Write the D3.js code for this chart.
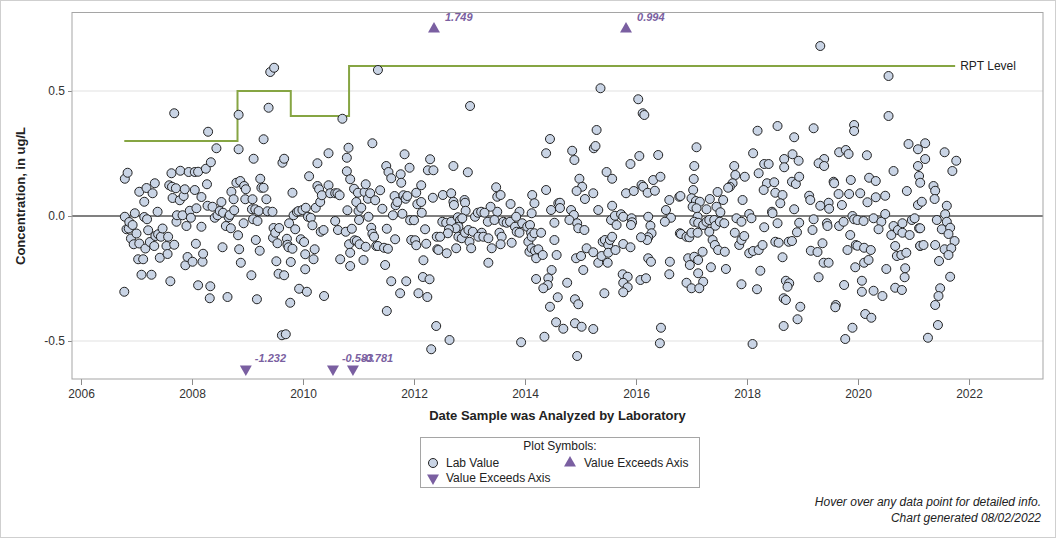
<!doctype html>
<html>
<head>
<meta charset="utf-8" />
<script src="https://cdn.jsdelivr.net/npm/d3@7"></script>
<style>
  body { margin: 0; background: #fff; }
  svg text { font-family: "Liberation Sans", Arial, sans-serif; }
</style>
</head>
<body>
<svg id="chart" width="1056" height="538"></svg>
<script>
// lab values: [decimal year analyzed, concentration ug/L]
var labPoints = [
[2006.78,-0.303],[2006.79,0.149],[2006.84,0.173],[2006.79,-0.003],[2006.82,-0.053],[2006.86,-0.050],[2006.87,-0.024],[2006.90,-0.090],[2006.93,-0.036],[2006.97,0.011],[2006.95,-0.113],[2007.00,-0.070],[2007.03,-0.173],[2007.05,0.097],[2007.05,-0.110],[2007.09,-0.235],[2007.12,-0.173],[2007.14,0.057],[2007.14,-0.004],[2007.16,-0.130],[2007.18,0.112],[2007.19,-0.013],[2007.21,-0.057],[2007.24,-0.104],[2007.27,-0.235],[2007.29,0.091],[2007.32,-0.120],[2007.33,0.131],[2007.34,-0.080],[2007.38,0.017],[2007.39,-0.073],[2007.42,-0.167],[2007.44,-0.083],[2007.47,-0.050],[2007.54,-0.120],[2007.56,-0.152],[2007.57,-0.083],[2007.59,0.123],[2007.61,-0.261],[2007.63,0.171],[2007.64,0.117],[2007.65,0.072],[2007.68,0.411],[2007.68,-0.115],[2007.71,0.111],[2007.72,-0.023],[2007.73,0.003],[2007.79,0.181],[2007.78,0.063],[2007.83,0.003],[2007.85,0.080],[2007.87,0.107],[2007.88,-0.197],[2007.90,-0.040],[2007.92,-0.164],[2007.94,0.176],[2007.96,0.021],[2007.98,-0.007],[2008.01,-0.183],[2008.05,0.176],[2008.05,0.104],[2008.07,-0.111],[2008.08,0.031],[2008.11,0.177],[2008.11,-0.277],[2008.17,0.076],[2008.17,-0.043],[2008.19,-0.183],[2008.20,-0.151],[2008.25,0.189],[2008.27,0.127],[2008.28,0.041],[2008.29,0.337],[2008.32,-0.329],[2008.33,-0.281],[2008.34,0.215],[2008.37,0.037],[2008.41,-0.007],[2008.44,0.271],[2008.46,0.003],[2008.50,0.020],[2008.53,0.056],[2008.55,-0.125],[2008.56,0.013],[2008.61,-0.040],[2008.64,-0.324],[2008.66,-0.005],[2008.68,0.004],[2008.70,-0.049],[2008.71,0.097],[2008.75,0.067],[2008.76,0.023],[2008.80,0.133],[2008.83,-0.077],[2008.84,0.405],[2008.84,0.267],[2008.85,-0.133],[2008.87,0.140],[2008.88,-0.187],[2008.93,-0.029],[2008.94,0.120],[2008.96,0.067],[2008.97,0.107],[2009.07,-0.237],[2009.08,0.027],[2009.09,0.067],[2009.10,-0.013],[2009.11,0.229],[2009.14,0.027],[2009.15,-0.096],[2009.17,-0.333],[2009.18,-0.020],[2009.20,0.020],[2009.22,-0.139],[2009.23,0.149],[2009.25,0.113],[2009.29,0.307],[2009.29,0.113],[2009.34,0.067],[2009.36,0.019],[2009.38,0.433],[2009.41,0.576],[2009.45,0.017],[2009.48,0.593],[2009.47,-0.048],[2009.46,-0.087],[2009.50,-0.067],[2009.52,-0.181],[2009.54,-0.109],[2009.56,-0.231],[2009.57,-0.048],[2009.62,-0.477],[2009.63,0.213],[2009.66,0.229],[2009.66,-0.237],[2009.69,-0.473],[2009.71,-0.091],[2009.72,-0.115],[2009.74,-0.125],[2009.75,-0.029],[2009.77,-0.347],[2009.78,-0.184],[2009.81,-0.131],[2009.81,0.093],[2009.83,0.003],[2009.86,-0.053],[2009.89,0.016],[2009.92,0.020],[2009.93,-0.291],[2009.96,-0.093],[2009.99,0.024],[2010.02,-0.104],[2010.04,-0.153],[2010.04,-0.213],[2010.05,0.033],[2010.07,-0.303],[2010.09,-0.003],[2010.11,0.159],[2010.14,-0.007],[2010.17,-0.037],[2010.19,-0.173],[2010.21,-0.133],[2010.23,0.033],[2010.26,0.211],[2010.26,0.120],[2010.29,0.107],[2010.31,0.056],[2010.32,-0.063],[2010.34,0.083],[2010.37,-0.056],[2010.38,-0.320],[2010.46,0.251],[2010.46,0.123],[2010.49,0.091],[2010.58,-0.020],[2010.58,0.091],[2010.62,0.091],[2010.63,-0.056],[2010.66,0.083],[2010.67,-0.173],[2010.71,0.389],[2010.77,-0.063],[2010.79,0.233],[2010.79,0.179],[2010.80,0.023],[2010.82,0.273],[2010.83,-0.113],[2010.85,0.147],[2010.85,-0.147],[2010.85,-0.200],[2010.88,-0.051],[2010.92,0.109],[2010.93,-0.097],[2010.96,0.056],[2010.97,-0.100],[2010.99,0.093],[2011.00,0.020],[2011.01,-0.016],[2011.02,-0.113],[2011.05,0.033],[2011.09,-0.176],[2011.11,0.096],[2011.13,0.127],[2011.13,-0.123],[2011.17,0.069],[2011.18,-0.003],[2011.21,0.091],[2011.23,-0.047],[2011.25,0.291],[2011.25,-0.071],[2011.28,-0.083],[2011.30,0.063],[2011.32,-0.120],[2011.35,0.584],[2011.35,-0.120],[2011.39,0.103],[2011.43,0.029],[2011.46,-0.127],[2011.48,-0.196],[2011.50,0.200],[2011.51,-0.051],[2011.51,-0.380],[2011.53,-0.131],[2011.54,0.176],[2011.59,0.151],[2011.59,-0.261],[2011.62,0.003],[2011.65,0.080],[2011.66,-0.093],[2011.67,0.043],[2011.70,0.056],[2011.75,-0.309],[2011.76,0.167],[2011.77,0.133],[2011.79,0.009],[2011.81,0.083],[2011.83,0.247],[2011.85,0.069],[2011.86,-0.261],[2011.88,0.080],[2011.92,0.193],[2011.93,-0.017],[2011.95,-0.096],[2012.00,-0.017],[2012.02,-0.097],[2012.04,0.093],[2012.04,-0.117],[2012.06,0.047],[2012.08,-0.309],[2012.13,0.056],[2012.13,0.123],[2012.14,0.013],[2012.16,-0.244],[2012.17,-0.177],[2012.20,-0.053],[2012.22,-0.111],[2012.24,-0.324],[2012.25,0.183],[2012.28,-0.253],[2012.29,0.227],[2012.31,-0.533],[2012.34,0.073],[2012.35,0.183],[2012.40,-0.440],[2012.41,-0.083],[2012.42,-0.133],
[2013.01,0.440],[2014.45,0.308],[2014.38,0.251],[2012.71,0.200],[2012.97,0.175],[2012.52,0.084],[2012.67,0.091],[2012.71,0.057],[2012.72,0.044],[2012.91,0.064],[2012.92,0.053],[2012.93,0.021],[2013.48,0.115],[2013.50,0.077],[2013.56,0.084],[2013.74,0.048],[2013.50,0.017],[2013.38,0.037],[2014.13,0.084],[2014.17,0.051],[2014.38,0.104],[2014.47,0.024],[2014.60,0.051],[2013.90,0.017],[2014.12,0.011],[2012.51,-0.023],[2012.58,-0.027],[2012.67,-0.023],[2012.79,-0.005],[2012.83,-0.016],[2012.87,-0.009],[2012.80,-0.043],[2012.75,-0.049],[2012.63,-0.053],[2012.61,-0.069],[2012.47,-0.083],[2012.44,-0.136],[2012.59,-0.149],[2012.76,-0.129],[2012.80,-0.083],[2012.86,-0.089],[2012.92,-0.067],[2012.98,-0.056],[2013.00,-0.103],[2013.03,-0.129],[2013.06,-0.063],[2013.10,-0.003],[2013.15,0.013],[2013.21,0.017],[2013.27,0.013],[2013.22,-0.067],[2013.16,-0.083],[2013.25,-0.083],[2013.33,-0.023],[2013.34,-0.089],[2013.40,-0.129],[2013.34,-0.187],[2013.45,-0.016],[2013.54,-0.067],[2013.58,-0.083],[2013.56,-0.113],[2013.61,-0.023],[2013.67,-0.027],[2013.73,-0.023],[2013.76,-0.107],[2013.82,-0.043],[2013.85,-0.063],[2013.90,-0.067],[2013.84,-0.003],[2013.95,-0.029],[2014.04,-0.043],[2014.09,-0.036],[2014.06,-0.103],[2014.11,-0.067],[2014.12,-0.083],[2014.17,-0.069],[2014.08,-0.143],[2014.12,-0.129],[2014.18,-0.139],[2014.20,-0.169],[2014.24,-0.133],[2014.29,-0.067],[2014.32,-0.156],[2014.53,-0.027],[2014.53,-0.096],[2014.57,-0.156],[2014.48,-0.216],[2014.42,-0.249],[2014.41,-0.276],[2014.33,-0.289],[2014.20,-0.252],[2014.59,-0.325],[2014.45,-0.363],[2014.56,-0.425],[2014.35,-0.483],[2013.93,-0.505],[2012.64,-0.496],
[2015.36,0.511],[2016.04,0.467],[2016.12,0.411],[2016.15,0.404],[2015.29,0.344],[2014.85,0.261],[2014.89,0.224],[2015.24,0.271],[2015.27,0.280],[2015.47,0.176],[2015.57,0.149],[2015.90,0.208],[2016.06,0.240],[2016.40,0.244],[2014.98,0.149],[2015.03,0.117],[2014.93,0.100],[2015.08,0.068],[2015.23,0.091],[2014.63,0.053],[2014.63,0.032],[2014.83,0.024],[2014.88,0.004],[2014.80,-0.016],[2014.94,-0.029],[2014.96,-0.049],[2015.07,-0.056],[2015.32,0.024],[2015.57,0.041],[2015.55,-0.016],[2015.62,0.001],[2015.65,-0.036],[2015.73,0.007],[2015.77,-0.003],[2015.82,0.091],[2015.96,0.100],[2015.92,-0.009],[2015.93,-0.025],[2015.91,-0.036],[2016.10,0.124],[2016.13,0.117],[2016.21,0.093],[2016.31,0.144],[2016.44,0.157],[2016.34,0.101],[2016.22,-0.003],[2016.26,-0.039],[2016.28,-0.069],[2016.22,-0.085],[2016.20,-0.096],[2016.09,-0.085],[2016.60,0.064],[2016.54,0.024],[2016.63,-0.007],[2016.52,-0.023],[2016.78,0.077],[2016.79,-0.069],[2014.69,-0.451],[2014.90,-0.429],[2015.02,-0.443],[2015.23,-0.452],[2014.94,-0.560],[2014.76,-0.267],[2014.90,-0.333],[2014.96,-0.353],[2015.05,-0.216],[2014.92,-0.169],[2015.01,-0.160],[2015.11,-0.129],[2015.23,-0.145],[2015.32,-0.187],[2015.38,-0.160],[2015.40,-0.103],[2015.44,-0.096],[2015.50,-0.116],[2015.53,-0.096],[2015.57,-0.083],[2015.50,-0.147],[2015.49,-0.187],[2015.63,-0.136],[2015.43,-0.309],[2015.77,-0.112],[2015.90,-0.125],[2015.76,-0.233],[2015.85,-0.243],[2015.77,-0.267],[2015.85,-0.285],[2015.77,-0.305],[2016.08,-0.256],[2016.18,-0.249],[2016.22,-0.169],[2016.27,-0.183],[2016.61,-0.183],[2016.60,-0.233],[2016.45,-0.447],[2016.43,-0.509],
[2018.19,0.341],[2018.55,0.360],[2018.85,0.315],[2017.09,0.275],[2018.11,0.251],[2017.05,0.200],[2017.77,0.200],[2018.67,0.228],[2018.82,0.247],[2018.93,0.221],[2018.31,0.208],[2018.39,0.208],[2018.67,0.195],[2017.04,0.148],[2017.79,0.164],[2017.96,0.157],[2018.21,0.171],[2017.74,0.131],[2017.69,0.117],[2017.66,0.113],[2018.36,0.131],[2018.49,0.135],[2018.30,0.104],[2018.51,0.093],[2018.64,0.084],[2018.60,0.051],[2018.81,0.137],[2018.88,0.128],[2018.94,0.157],[2016.80,0.080],[2017.03,0.104],[2017.00,0.071],[2017.08,0.060],[2017.15,0.057],[2017.02,0.037],[2017.09,0.031],[2017.27,0.027],[2017.33,0.068],[2017.47,0.096],[2017.57,0.064],[2017.45,0.037],[2017.52,0.015],[2017.92,0.064],[2017.81,-0.009],[2017.90,-0.023],[2018.04,0.008],[2018.08,-0.009],[2018.45,0.017],[2018.46,0.011],[2018.55,-0.029],[2018.85,0.027],[2018.94,-0.027],[2018.31,-0.045],[2017.11,-0.003],[2017.05,-0.023],[2017.12,-0.027],[2017.21,-0.036],[2017.27,-0.023],[2017.32,-0.016],[2017.41,-0.016],[2017.43,-0.039],[2017.51,-0.023],[2017.59,-0.029],[2016.81,-0.072],[2016.91,-0.083],[2016.96,-0.085],[2017.00,-0.067],[2017.11,-0.067],[2017.32,-0.063],[2017.38,-0.096],[2017.42,-0.116],[2017.48,-0.136],[2017.60,-0.143],[2017.78,-0.067],[2017.86,-0.116],[2017.90,-0.096],[2017.95,-0.080],[2018.04,-0.149],[2018.11,-0.140],[2018.21,-0.136],[2018.28,-0.116],[2018.51,-0.103],[2018.57,-0.107],[2018.75,-0.103],[2018.81,-0.100],[2018.90,-0.065],[2018.64,-0.165],[2016.94,-0.169],[2016.97,-0.196],[2017.05,-0.163],[2017.12,-0.176],[2017.20,-0.143],[2017.35,-0.205],[2017.62,-0.212],[2017.12,-0.229],[2017.21,-0.263],[2016.91,-0.267],[2017.00,-0.289],[2017.14,-0.289],[2017.90,-0.273],[2018.24,-0.219],[2018.18,-0.293],[2018.70,-0.259],[2018.76,-0.269],[2018.73,-0.283],[2018.66,-0.329],[2018.70,-0.336],[2018.96,-0.363],[2018.91,-0.413],[2018.66,-0.440],[2018.10,-0.512],
[2019.32,0.680],[2020.55,0.560],[2020.55,0.400],[2019.20,0.351],[2019.93,0.364],[2019.93,0.340],[2020.91,0.288],[2021.08,0.267],[2019.66,0.255],[2019.78,0.264],[2019.83,0.248],[2020.16,0.243],[2019.39,0.228],[2019.29,0.211],[2019.39,0.200],[2020.64,0.180],[2021.08,0.200],[2019.56,0.137],[2019.57,0.131],[2019.87,0.144],[2020.20,0.153],[2020.32,0.140],[2021.10,0.160],[2021.12,0.133],[2020.88,0.100],[2019.12,0.081],[2019.14,0.064],[2019.32,0.041],[2019.47,0.053],[2019.48,0.029],[2019.65,0.088],[2019.84,0.088],[2019.71,0.044],[2020.04,0.091],[2020.17,0.055],[2020.32,0.075],[2020.49,0.081],[2021.08,0.044],[2019.20,-0.013],[2019.18,-0.056],[2019.44,-0.029],[2019.45,-0.040],[2019.66,-0.040],[2019.74,-0.023],[2019.90,0.000],[2019.93,-0.013],[2019.99,-0.016],[2020.10,-0.020],[2020.28,-0.009],[2020.42,-0.023],[2020.49,0.008],[2020.37,-0.053],[2020.64,-0.040],[2020.60,-0.076],[2020.72,-0.056],[2020.80,-0.029],[2020.80,-0.067],[2020.93,-0.076],[2020.97,-0.016],[2021.02,-0.009],[2021.10,-0.049],[2021.12,-0.120],[2019.86,-0.076],[2019.36,-0.109],[2019.15,-0.139],[2019.27,-0.144],[2019.81,-0.136],[2019.96,-0.116],[2019.99,-0.119],[2020.11,-0.127],[2020.23,-0.136],[2020.67,-0.120],[2020.70,-0.160],[2020.78,-0.156],[2020.87,-0.147],[2019.38,-0.187],[2019.47,-0.187],[2019.95,-0.205],[2020.11,-0.187],[2020.19,-0.176],[2020.51,-0.212],[2020.85,-0.209],[2020.84,-0.245],[2019.29,-0.245],[2019.75,-0.276],[2020.07,-0.259],[2020.07,-0.303],[2020.28,-0.299],[2020.44,-0.320],[2020.67,-0.287],[2020.79,-0.296],[2019.60,-0.356],[2019.59,-0.365],[2020.13,-0.392],[2020.24,-0.407],[2019.90,-0.447],[2019.77,-0.492],
[2021.21,0.291],[2021.56,0.255],[2021.77,0.221],[2021.70,0.180],[2021.21,0.228],[2021.36,0.120],[2021.39,0.101],[2021.38,0.068],[2021.15,0.057],[2021.60,0.041],[2021.57,0.007],[2021.42,-0.016],[2021.60,-0.023],[2021.51,-0.053],[2021.66,-0.047],[2021.12,-0.049],[2021.63,-0.072],[2021.74,-0.100],[2021.12,-0.119],[2021.18,-0.116],[2021.39,-0.116],[2021.56,-0.133],[2021.68,-0.129],[2021.63,-0.156],[2021.46,-0.180],[2021.66,-0.243],[2021.48,-0.289],[2021.45,-0.320],[2021.39,-0.356],[2021.44,-0.436],[2021.26,-0.487]
];

// reporting level steps
var rptDates  = [2006.78, 2008.82, 2009.78, 2010.83, 2021.75];
var rptLevels = [0.3, 0.5, 0.4, 0.6, 0.6];

// values off the axis
var overDates  = [2012.36, 2015.82];
var overLabels = ["1.749", "0.994"];
var underDates  = [2008.97, 2010.54, 2010.90];
var underLabels = ["-1.232", "-0.583", "-0.781"];

var xTicks = [2006, 2008, 2010, 2012, 2014, 2016, 2018, 2020, 2022];
var yTicks = [-0.5, 0, 0.5];

var W = 1056, H = 538;
var plotL = 72, plotR = 1043, plotT = 12.5, plotB = 379;
var purple = "#7a5fa1", green = "#86a543";

var svg = d3.select("#chart");

var x = d3.scaleLinear().domain([2005.838, 2023.333]).range([plotL, plotR]);
var y = d3.scaleLinear().domain([-0.652, 0.814]).range([plotB, plotT]);

// outer border
svg.append("rect").attr("x", 0.5).attr("y", 0.5).attr("width", W - 1).attr("height", H - 1)
  .attr("fill", "#fff").attr("stroke", "#cfcfcf");

// grid lines
svg.append("g").selectAll("line").data([-0.5, 0.5]).join("line")
  .attr("x1", plotL).attr("x2", plotR)
  .attr("y1", function(d) { return y(d); }).attr("y2", function(d) { return y(d); })
  .attr("stroke", "#ebebeb").attr("stroke-width", 1.5);

// zero reference line
svg.append("line").attr("x1", plotL).attr("x2", plotR).attr("y1", y(0)).attr("y2", y(0))
  .attr("stroke", "#808080").attr("stroke-width", 2);

// axes
var xAxis = svg.append("g").attr("transform", "translate(0," + plotB + ")")
  .call(d3.axisBottom(x).tickValues(xTicks).tickFormat(d3.format("d")).tickSize(6).tickPadding(4));
var yAxis = svg.append("g").attr("transform", "translate(" + plotL + ",0)")
  .call(d3.axisLeft(y).tickValues(yTicks).tickFormat(function(d) { return d.toFixed(1); }).tickSize(4).tickPadding(3));
[xAxis, yAxis].forEach(function(g) {
  g.select(".domain").remove();
  g.selectAll(".tick line").attr("stroke", "#8a8a8a");
  g.selectAll(".tick text").attr("fill", "#333").style("font-size", "12px")
    .style("font-family", '"Liberation Sans", Arial, sans-serif');
});

// plot frame
svg.append("rect").attr("x", plotL).attr("y", plotT).attr("width", plotR - plotL).attr("height", plotB - plotT)
  .attr("fill", "none").attr("stroke", "#a5a5a5");

// RPT level
var rpt = rptDates.map(function(d, i) { return [d, rptLevels[i]]; });
svg.append("path").datum(rpt)
  .attr("d", d3.line().x(function(d) { return x(d[0]); }).y(function(d) { return y(d[1]); }).curve(d3.curveStepAfter))
  .attr("fill", "none").attr("stroke", green).attr("stroke-width", 2);
svg.append("text").attr("x", x(rptDates[rptDates.length - 1]) + 5).attr("y", y(0.6) + 4)
  .style("font-size", "12px").attr("fill", "#222").text("RPT Level");

// lab values
svg.append("g").selectAll("circle").data(labPoints).join("circle")
  .attr("cx", function(d) { return x(d[0]); })
  .attr("cy", function(d) { return y(d[1]); })
  .attr("r", 4.5)
  .attr("fill", "#c9d4e5").attr("stroke", "#222").attr("stroke-width", 1);

// exceeds-axis markers
var tri = d3.symbol().type(d3.symbolTriangle).size(62);
var overY = 29, underY = 369;
svg.append("g").selectAll("path").data(overDates).join("path")
  .attr("d", tri)
  .attr("transform", function(d) { return "translate(" + x(d) + "," + overY + ")"; })
  .attr("fill", purple);
svg.append("g").selectAll("text").data(overDates).join("text")
  .attr("x", function(d) { return x(d) + 11; }).attr("y", overY - 8)
  .attr("fill", purple).style("font-size", "11px").style("font-weight", "bold").style("font-style", "italic")
  .text(function(d, i) { return overLabels[i]; });
svg.append("g").selectAll("path").data(underDates).join("path")
  .attr("d", tri)
  .attr("transform", function(d) { return "translate(" + x(d) + "," + underY + ") rotate(180)"; })
  .attr("fill", purple);
svg.append("g").selectAll("text").data(underDates).join("text")
  .attr("x", function(d) { return x(d) + 9; }).attr("y", underY - 7)
  .attr("fill", purple).style("font-size", "11px").style("font-weight", "bold").style("font-style", "italic")
  .text(function(d, i) { return underLabels[i]; });

// axis titles
svg.append("text").attr("x", (plotL + plotR) / 2).attr("y", 420).attr("text-anchor", "middle")
  .style("font-size", "13px").style("font-weight", "bold").attr("fill", "#222")
  .text("Date Sample was Analyzed by Laboratory");
svg.append("text").attr("transform", "translate(25," + y(0.08) + ") rotate(-90)").attr("text-anchor", "middle")
  .style("font-size", "13px").style("font-weight", "bold").attr("fill", "#222")
  .text("Concentration, in ug/L");

// legend
var lg = svg.append("g");
lg.append("rect").attr("x", 420.5).attr("y", 437.5).attr("width", 279).attr("height", 50)
  .attr("fill", "#fff").attr("stroke", "#a5a5a5");
lg.append("text").attr("x", 560).attr("y", 450).attr("text-anchor", "middle")
  .style("font-size", "12px").attr("fill", "#222").text("Plot Symbols:");
lg.append("circle").attr("cx", 433).attr("cy", 463).attr("r", 4.5)
  .attr("fill", "#c9d4e5").attr("stroke", "#222");
lg.append("text").attr("x", 446).attr("y", 467).style("font-size", "12px").attr("fill", "#222").text("Lab Value");
lg.append("path").attr("d", tri).attr("transform", "translate(570,463)").attr("fill", purple);
lg.append("text").attr("x", 584).attr("y", 467).style("font-size", "12px").attr("fill", "#222").text("Value Exceeds Axis");
lg.append("path").attr("d", tri).attr("transform", "translate(433,478) rotate(180)").attr("fill", purple);
lg.append("text").attr("x", 446).attr("y", 482).style("font-size", "12px").attr("fill", "#222").text("Value Exceeds Axis");

// footnotes
svg.append("text").attr("x", 1041).attr("y", 506).attr("text-anchor", "end")
  .style("font-size", "12px").style("font-style", "italic").attr("fill", "#222")
  .text("Hover over any data point for detailed info.");
svg.append("text").attr("x", 1041).attr("y", 522).attr("text-anchor", "end")
  .style("font-size", "12px").style("font-style", "italic").attr("fill", "#222")
  .text("Chart generated 08/02/2022");
</script>
</body>
</html>
